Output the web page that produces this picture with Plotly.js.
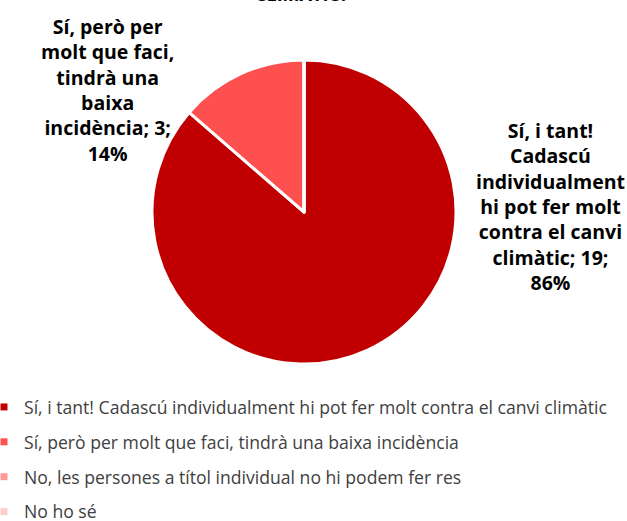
<!DOCTYPE html>
<html>
<head>
<meta charset="utf-8">
<script src="https://cdn.plot.ly/plotly-3.0.1.min.js"></script>
<style>html,body{margin:0;padding:0;background:#fff;}#chart{width:627px;height:521px;}</style>
</head>
<body>
<div id="chart"></div>
<script>
const categories = [
  "Sí, i tant! Cadascú individualment hi pot fer molt contra el canvi climàtic",
  "Sí, però per molt que faci, tindrà una baixa incidència",
  "No, les persones a títol individual no hi podem fer res",
  "No ho sé"
];
const values = [19, 3, 0, 0];
const colors = ["#C00000", "#FF5050", "#FF9999", "#FFCCCC"];
// wrapped category names for the data labels
const wrappedNames = [
  ["Sí, i tant!", "Cadascú", "individualment", "hi pot fer molt", "contra el canvi", "climàtic"],
  ["Sí, però per", "molt que faci,", "tindrà una", "baixa", "incidència"]
];
const titleTail = "CLIMÀTIC?";

const W = 627, H = 521;
const total = values.reduce((a, b) => a + b, 0);
const pct = values.map(v => Math.round(v / total * 100));

function labelText(i) {
  const lines = wrappedNames[i].slice();
  lines[lines.length - 1] += "; " + values[i] + ";";
  lines.push(pct[i] + "%");
  return lines.join("<br>");
}

const cx = 304, cy = 212, r = 152;
const traces = [{
  type: "pie",
  labels: categories,
  values: values,
  sort: false,
  direction: "clockwise",
  rotation: 0,
  marker: { colors: colors, line: { color: "#ffffff", width: 3 } },
  textinfo: "none",
  hoverinfo: "label+value+percent",
  showlegend: false,
  domain: { x: [(cx - r) / W, (cx + r) / W], y: [1 - (cy + r) / H, 1 - (cy - r) / H] }
}];
categories.forEach((c, i) => {
  traces.push({
    type: "scatter", mode: "markers", x: [null], y: [null],
    name: c, legendgroup: "g" + i,
    marker: { symbol: "square", size: 7, color: colors[i] },
    showlegend: true, hoverinfo: "skip"
  });
});

const labelFont = { family: "Open Sans, Noto Sans, sans-serif", size: 19.5, color: "#000000", weight: "bold" };
const layout = {
  width: W, height: H,
  margin: { l: 0, r: 0, t: 0, b: 0, autoexpand: false },
  paper_bgcolor: "#ffffff", plot_bgcolor: "#ffffff",
  xaxis: { visible: false, domain: [0, 0.01] },
  yaxis: { visible: false, domain: [0, 0.01] },
  showlegend: true,
  legend: {
    x: -16 / W, xanchor: "left", y: 1 - 389 / H, yanchor: "top",
    orientation: "v", tracegroupgap: 9,
    font: { family: "Open Sans, Noto Sans, sans-serif", size: 17.6, color: "#404040" },
    bgcolor: "rgba(0,0,0,0)"
  },
  annotations: [
    { text: "<b>" + titleTail + "</b>", xref: "paper", yref: "paper", x: 302 / W, y: 1 - 8 / H,
      xanchor: "center", yanchor: "bottom", showarrow: false,
      font: { family: "Open Sans, Noto Sans, sans-serif", size: 18, color: "#000000" } },
    { text: "<b>" + labelText(1) + "</b>", xref: "paper", yref: "paper", x: 107 / W, y: 1 - 90 / H,
      xanchor: "center", yanchor: "middle", showarrow: false, align: "center", font: labelFont },
    { text: "<b>" + labelText(0) + "</b>", xref: "paper", yref: "paper", x: 550 / W, y: 1 - 206 / H,
      xanchor: "center", yanchor: "middle", showarrow: false, align: "center", font: labelFont }
  ]
};
Plotly.newPlot("chart", traces, layout, { displayModeBar: false, staticPlot: true });
</script>
</body>
</html>
